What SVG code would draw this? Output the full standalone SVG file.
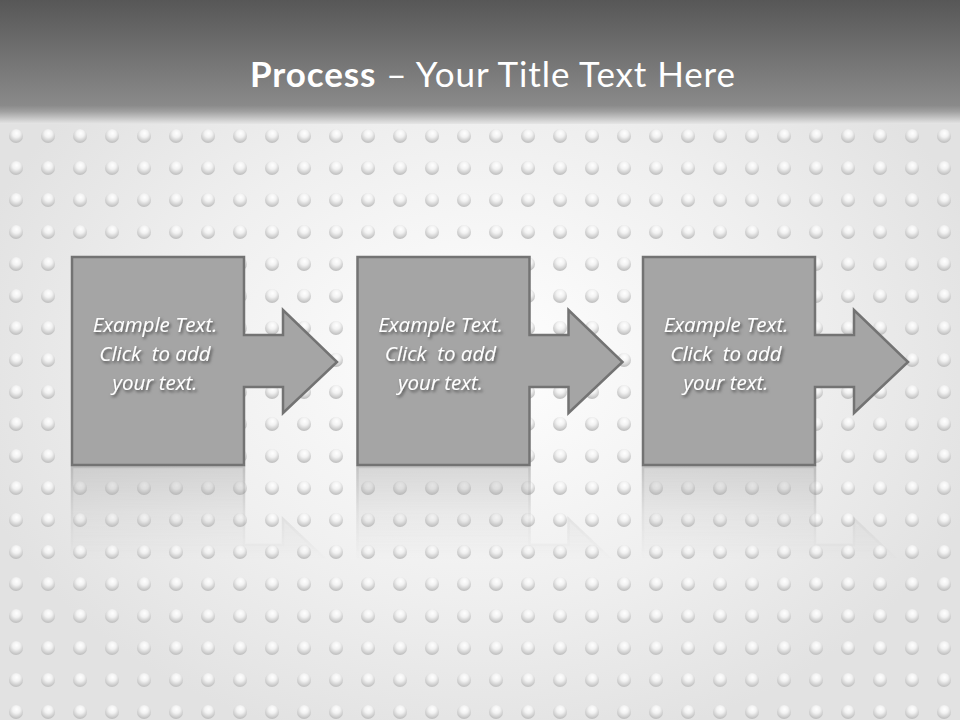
<svg xmlns="http://www.w3.org/2000/svg" width="960" height="720" viewBox="0 0 960 720">
<style>
.shape{fill:#a5a5a5;stroke:#737373;stroke-width:2.5;stroke-linejoin:miter}
.lbl{font-family:"Open Sans",Lato,"Liberation Sans",sans-serif;font-style:italic;font-size:20.5px;fill:#ffffff;text-anchor:middle;white-space:pre}
.title{font-family:Lato,"Open Sans","Liberation Sans",sans-serif;font-size:35px;fill:#ffffff;text-anchor:middle}
</style>
<defs>
<linearGradient id="hdr" x1="0" y1="0" x2="0" y2="1">
<stop offset="0" stop-color="#575757"/>
<stop offset="0.85" stop-color="#8a8a8a"/>
<stop offset="0.9" stop-color="#a0a0a0"/>
<stop offset="1" stop-color="#e6e6e6"/>
</linearGradient>
<radialGradient id="bgsheen" cx="0.5" cy="0.5" r="0.55">
<stop offset="0" stop-color="#ffffff"/>
<stop offset="0.6" stop-color="#efefef"/>
<stop offset="1" stop-color="#e2e2e2"/>
</radialGradient>
<radialGradient id="dot" cx="0.5" cy="0.35" r="0.6" fx="0.55" fy="0.3">
<stop offset="0" stop-color="#ffffff"/>
<stop offset="0.45" stop-color="#f2f2f2"/>
<stop offset="1" stop-color="#c2c2c2"/>
</radialGradient>
<pattern id="dots" patternUnits="userSpaceOnUse" x="0" y="120" width="32" height="32">
<circle cx="16" cy="16" r="7" fill="url(#dot)"/>
</pattern>
<linearGradient id="reffade" gradientUnits="userSpaceOnUse" x1="0" y1="467" x2="0" y2="560">
<stop offset="0" stop-color="#fff" stop-opacity="0.55"/>
<stop offset="0.5" stop-color="#fff" stop-opacity="0.2"/>
<stop offset="1" stop-color="#fff" stop-opacity="0"/>
</linearGradient>
<mask id="refmask" maskUnits="userSpaceOnUse" x="0" y="460" width="960" height="200">
<rect x="0" y="460" width="960" height="200" fill="url(#reffade)"/>
</mask>
<filter id="tsh" x="-20%" y="-40%" width="140%" height="180%">
<feDropShadow dx="1.5" dy="2" stdDeviation="1.8" flood-color="#000" flood-opacity="0.55"/>
</filter>
<path id="callout" d="M72,257 H244 V335 H283 V310 L337,362 L283,413 V387 H244 V465 H72 Z"/>
</defs>
<rect width="960" height="720" fill="url(#bgsheen)"/>
<rect x="0" y="120" width="960" height="600" fill="url(#dots)"/>
<rect x="0" y="0" width="960" height="124" fill="url(#hdr)"/>
<text class="title" x="492.5" y="87" textLength="485" lengthAdjust="spacing"><tspan font-weight="bold">Process</tspan> – Your Title Text Here</text>
<g id="reflections" mask="url(#refmask)" opacity="0.7">
<use href="#callout" class="shape" transform="translate(0,932) scale(1,-1)"/>
<use href="#callout" class="shape" transform="translate(285.5,932) scale(1,-1)"/>
<use href="#callout" class="shape" transform="translate(571,932) scale(1,-1)"/>
</g>
<g id="connectors"/>
<g id="node1">
<use href="#callout" class="shape"/>
<text class="lbl" filter="url(#tsh)"><tspan x="155" y="332">Example Text.</tspan><tspan x="155" y="361">Click  to add</tspan><tspan x="155" y="390">your text.</tspan></text>
</g>
<g id="node2" transform="translate(285.5,0)">
<use href="#callout" class="shape"/>
<text class="lbl" filter="url(#tsh)"><tspan x="155" y="332">Example Text.</tspan><tspan x="155" y="361">Click  to add</tspan><tspan x="155" y="390">your text.</tspan></text>
</g>
<g id="node3" transform="translate(571,0)">
<use href="#callout" class="shape"/>
<text class="lbl" filter="url(#tsh)"><tspan x="155" y="332">Example Text.</tspan><tspan x="155" y="361">Click  to add</tspan><tspan x="155" y="390">your text.</tspan></text>
</g>
</svg>
